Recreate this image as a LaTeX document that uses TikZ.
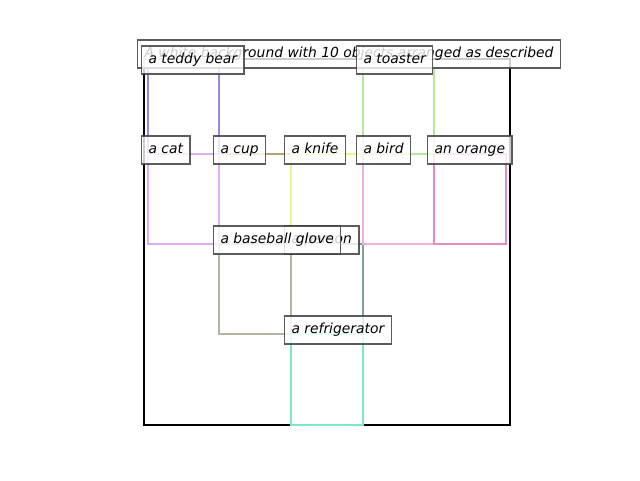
\documentclass[tikz,border=0pt]{standalone}
\usepackage{fontspec}
\setmainfont{DejaVu Sans}
\begin{document}
\begin{tikzpicture}[x=0.75pt,y=-0.75pt,
  objbox/.style={line width=2pt},
  lbl/.style={draw=black!75, draw opacity=0.85, line width=0.9pt, fill=white, fill opacity=0.8, text opacity=1,
    anchor=west, text height=8pt, text depth=2.4pt, inner xsep=5.2pt, inner ysep=5.3pt,
    font=\fontsize{10.4}{12}\selectfont\itshape}]
\useasboundingbox (0,0) rectangle (640,480);
\definecolor{cTeddy}{HTML}{A080EA}
\definecolor{cCat}{HTML}{E0ACF2}
\definecolor{cCup}{HTML}{BBA070}
\definecolor{cKnife}{HTML}{E6F78C}
\definecolor{cToaster}{HTML}{B4E896}
\definecolor{cBird}{HTML}{F2AEDC}
\definecolor{cOrange}{HTML}{E68AC6}
\definecolor{cGlove}{HTML}{B8B4A2}
\definecolor{cPerson}{HTML}{84A292}
\definecolor{cFridge}{HTML}{78E8C8}
% canvas
\draw[line width=2.2pt] (144,59) rectangle (510,425);
% object rectangles
\draw[objbox,cTeddy] (148,64) rectangle (219,154);
\draw[objbox,cCup] (219,154) rectangle (291,244);
\draw[objbox,cCat] (148,154) rectangle (219,244);
\draw[objbox,cKnife] (291,154) rectangle (363,244);
\draw[objbox,cPerson] (291,244) rectangle (363,334);
\draw[objbox,cGlove] (219,244) rectangle (291,334);
\draw[objbox,cBird] (363,154) rectangle (434,244);
\draw[objbox,cToaster] (363,64) rectangle (434,154);
\draw[objbox,cOrange] (434,154) rectangle (506,244);
\draw[objbox,cFridge] (291,334) rectangle (363,425);
% title
\node[lbl, minimum width=316.5pt] (title) at (137,54) {A white background with 10 objects arranged as described};
% labels
\node[lbl] (teddy) at (141,60) {a teddy bear};
\node[lbl] (toaster) at (356,60) {a toaster};
\node[lbl] (cat) at (141,150) {a cat};
\node[lbl] (cup) at (213,150) {a cup};
\node[lbl] (knife) at (284,150) {a knife};
\node[lbl] (bird) at (356,150) {a bird};
\node[lbl] (orange) at (427,150) {an orange};
\node[lbl] (person) at (284,240) {a person};
\node[lbl] (glove) at (213,240) {a baseball glove};
\node[lbl] (fridge) at (284,330) {a refrigerator};
\end{tikzpicture}
\end{document}
